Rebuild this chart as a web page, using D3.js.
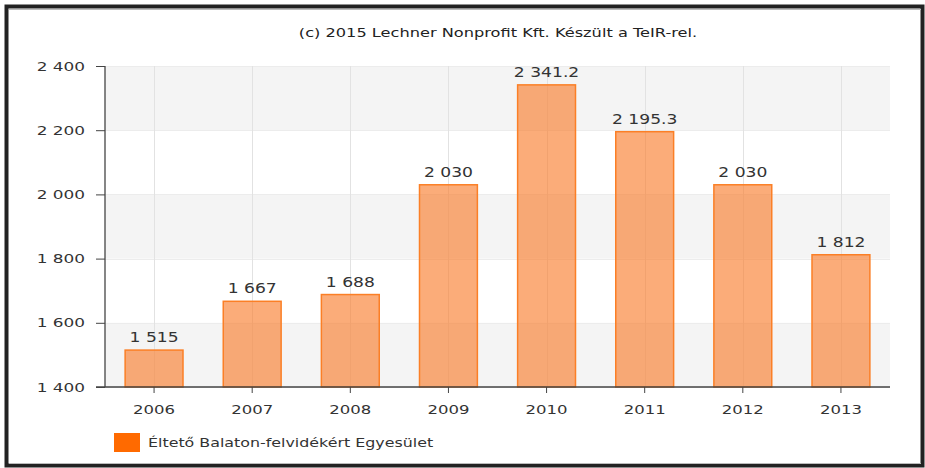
<!DOCTYPE html>
<html><head><meta charset="utf-8">
<script src="https://cdn.jsdelivr.net/npm/d3@7"></script>
<style>body{margin:0;background:#fff;} svg{display:block;font-family:"DejaVu Sans",Verdana,sans-serif;}</style>
</head><body>
<svg id="c" width="925" height="468"></svg>
<script>
const categories = ["2006","2007","2008","2009","2010","2011","2012","2013"];
const values = [1515, 1667, 1688, 2030, 2341.2, 2195.3, 2030, 1812];
const valueLabels = ["1 515","1 667","1 688","2 030","2 341.2","2 195.3","2 030","1 812"];
const yTicks = [1400, 1600, 1800, 2000, 2200, 2400];
const seriesName = "Éltető Balaton-felvidékért Egyesület";
const title = "(c) 2015 Lechner Nonprofit Kft. Készült a TeIR-rel.";

const svg = d3.select("#c");
const W = 925, H = 468;
const m = {left:105, right:35, top:66, bottom:81};
const x = d3.scaleBand().domain(categories).range([m.left, W - m.right]).paddingInner(0.4).paddingOuter(0.2);
const y = d3.scaleLinear().domain([1400, 2400]).range([H - m.bottom, m.top]);
const fmt = v => d3.format(",")(v).replace(/,/g, " ");
const SX = 1.3; // horizontal stretch of the reference text

// outer frame
svg.append("rect").attr("x",6.5).attr("y",6.5).attr("width",916).attr("height",459)
  .attr("fill","none").attr("stroke","#222").attr("stroke-width",4);
svg.append("line").attr("x1",9).attr("x2",921).attr("y1",9.5).attr("y2",9.5).attr("stroke","#bbb").attr("stroke-width",1);
svg.append("line").attr("x1",9).attr("x2",921).attr("y1",463.5).attr("y2",463.5).attr("stroke","#bbb").attr("stroke-width",1);

// title
svg.append("text").attr("transform","translate(498,37) scale(1.35,1)").attr("text-anchor","middle")
  .attr("font-size",12).attr("fill","#222").text(title);

// bands
for (let i = 0; i < yTicks.length - 1; i++) {
  if ((yTicks.length - 2 - i) % 2 === 0) {
    svg.append("rect").attr("x", m.left).attr("width", W - m.right - m.left)
      .attr("y", y(yTicks[i+1])).attr("height", y(yTicks[i]) - y(yTicks[i+1]))
      .attr("fill","#f4f4f4");
  }
}
// horizontal grid
svg.append("g").selectAll("line").data(yTicks).join("line")
  .attr("x1", m.left).attr("x2", W - m.right)
  .attr("y1", d => Math.round(y(d)) + 0.5).attr("y2", d => Math.round(y(d)) + 0.5)
  .attr("stroke","#ececec");
// vertical grid
svg.append("g").selectAll("line").data(categories).join("line")
  .attr("x1", d => Math.round(x(d) + x.bandwidth()/2) + 0.5).attr("x2", d => Math.round(x(d) + x.bandwidth()/2) + 0.5)
  .attr("y1", m.top).attr("y2", H - m.bottom)
  .attr("stroke","#e2e2e2");

// bars
svg.append("g").selectAll("rect").data(values).join("rect")
  .attr("x", (d,i) => x(categories[i]) + 0.5)
  .attr("width", x.bandwidth() - 1)
  .attr("y", d => y(d))
  .attr("height", d => y(1400) - y(d))
  .attr("fill","rgba(248,125,45,0.64)")
  .attr("stroke","#fb7f26").attr("stroke-width",1.5);

// value labels
svg.append("g").selectAll("text").data(values).join("text")
  .attr("transform", (d,i) => `translate(${x(categories[i]) + x.bandwidth()/2},${y(d) - 8}) scale(1.27,1)`)
  .attr("text-anchor","middle").attr("font-size",13.5).attr("fill","#333")
  .text((d,i) => valueLabels[i]);

// y axis
const ya = svg.append("g").attr("transform",`translate(${m.left},0)`)
  .call(d3.axisLeft(y).tickValues(yTicks).tickFormat(fmt).tickSize(9).tickPadding(10));
ya.select(".domain").attr("stroke","#444").attr("stroke-width",1.3).attr("d", `M0,${m.top}V${H-m.bottom}`);
ya.selectAll(".tick line").attr("stroke","#444");
ya.selectAll("text").attr("font-size",13).attr("fill","#333").attr("font-family","DejaVu Sans")
  .attr("x",0).attr("transform",`translate(-20,0) scale(${SX},1)`);

// x axis
const xa = svg.append("g").attr("transform",`translate(0,${H - m.bottom})`)
  .call(d3.axisBottom(x).tickSize(6).tickPadding(12));
xa.select(".domain").attr("stroke","#444").attr("stroke-width",1.3).attr("d", `M${m.left - 9},0H${W - m.right}`);
xa.selectAll(".tick line").attr("stroke","#444");
xa.selectAll("text").attr("font-size",13).attr("fill","#333").attr("font-family","DejaVu Sans")
  .attr("transform",`scale(1.27,1)`);

// legend
svg.append("rect").attr("x",114).attr("y",433).attr("width",26).attr("height",19).attr("fill","#ff6a00");
svg.append("text").attr("transform","translate(148,447) scale(1.38,1)").attr("font-size",11.5).attr("fill","#333").text(seriesName);
</script>
</body></html>
